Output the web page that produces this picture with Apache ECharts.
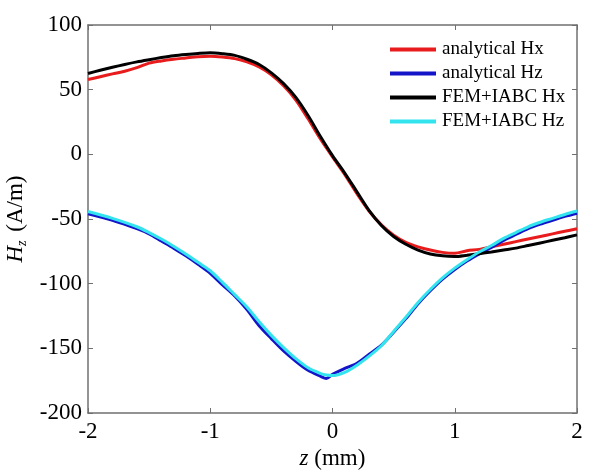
<!DOCTYPE html>
<html>
<head>
<meta charset="utf-8">
<script src="https://cdn.jsdelivr.net/npm/echarts@6/dist/echarts.min.js"></script>
<style>
html, body { margin: 0; padding: 0; background: #fff; }
#main { width: 590px; height: 472px; }
</style>
</head>
<body>
<div id="main"></div>
<script>
// z positions (mm) and field values (A/m)
var zHx = [-2, -1.9, -1.8, -1.7, -1.6, -1.5, -1.4, -1.3, -1.2, -1.1, -1, -0.9, -0.8, -0.7, -0.6, -0.5, -0.4, -0.3, -0.2, -0.1, 0,
           0.1, 0.2, 0.3, 0.4, 0.5, 0.6, 0.7, 0.8, 0.9, 1, 1.1, 1.2, 1.3, 1.4, 1.5, 1.6, 1.7, 1.8, 1.9, 2];
var analyticalHx = [57.8, 60, 62.2, 64.3, 67, 70.5, 72.2, 73.5, 74.5, 75.5, 75.8, 75.2, 74, 71.5, 67.5, 61.5, 53, 42, 27.5, 12, -2,
                    -15.5, -30.5, -44, -54.5, -62.5, -68, -71.5, -74, -75.8, -76.5, -74.5, -73.5, -71.5, -69.5, -67.5, -65.5, -63.5, -61.5, -59.5, -57.5];
var femHx = [62.5, 65, 67.3, 69.5, 71.5, 73.2, 74.8, 76.2, 77.2, 78, 78.5, 77.8, 76.5, 73.5, 69.5, 63, 54.7, 44, 30, 14, -1,
             -14.5, -29, -43.5, -55, -63.5, -69.5, -74, -77, -78.5, -79, -78, -76.8, -75.5, -74, -72.5, -70.5, -68.5, -66.5, -64.5, -62.3];

var zHz = [-2, -1.8, -1.6, -1.5, -1.4, -1.3, -1.2, -1.1, -1, -0.9, -0.8, -0.7, -0.6, -0.5, -0.4, -0.3, -0.2, -0.1, -0.05, 0,
           0.1, 0.2, 0.3, 0.4, 0.5, 0.6, 0.7, 0.8, 0.9, 1, 1.1, 1.2, 1.3, 1.4, 1.5, 1.6, 1.7, 1.8, 1.9, 2];
var analyticalHz = [-46, -51, -57.5, -61.5, -67, -72.5, -78.5, -85, -92, -101, -109.5, -120, -132.5, -142.5, -152, -160, -167, -171.5, -173.3, -170,
                    -165.5, -161.5, -154.5, -147.5, -137.5, -127, -115.5, -105.5, -96.5, -89, -82.5, -77, -72, -66.5, -62, -57.5, -54, -51, -48, -45.5];
var femHz = [-44.2, -49.5, -56, -60.5, -65.5, -71, -77, -83.5, -90, -99, -108.5, -118, -129.5, -140, -149.5, -158, -165, -169.3, -170.6, -171,
             -168.5, -163, -156, -148, -137, -126, -114.5, -104.5, -95.5, -88, -81.5, -75.5, -70.5, -65, -60.5, -56, -52.5, -49.5, -46.5, -43.8];

var seriesNames = ['analytical Hx', 'analytical Hz', 'FEM+IABC Hx', 'FEM+IABC Hz'];
var seriesColors = ['#e81c1c', '#1414c8', '#000000', '#33e4ee'];

function pairs(xs, ys) {
    return xs.map(function (x, i) { return [x, ys[i]]; });
}

var seriesData = [pairs(zHx, analyticalHx), pairs(zHz, analyticalHz), pairs(zHx, femHx), pairs(zHz, femHz)];

var font = 'Liberation Serif';
var axisColor = '#707070';

var myChart = echarts.init(document.getElementById('main'));

var option = {
    backgroundColor: '#fff',
    animation: false,
    color: seriesColors,
    textStyle: { fontFamily: font, color: '#000' },
    grid: { left: 88, right: 13, top: 25, bottom: 59, outerBoundsMode: 'none', containLabel: false },
    legend: {
        orient: 'vertical',
        left: 390,
        top: 39,
        padding: 0,
        itemWidth: 46,
        itemHeight: 4,
        itemGap: 3,
        icon: 'rect',
        textStyle: { fontFamily: font, fontSize: 19, color: '#000', padding: [0, 0, 0, 1], lineHeight: 21 },
        data: seriesNames
    },
    xAxis: [
        {
            type: 'value', min: -2, max: 2, interval: 1,
            name: '{i|z} (mm)', nameLocation: 'middle', nameGap: 30,
            nameTextStyle: {
                fontFamily: font, fontSize: 23, color: '#000',
                rich: { i: { fontFamily: font, fontSize: 23, fontStyle: 'italic' } }
            },
            axisLine: { onZero: false, lineStyle: { color: axisColor, width: 1.5 } },
            axisTick: { inside: true, length: 5, lineStyle: { color: axisColor } },
            axisLabel: { fontFamily: font, fontSize: 23, color: '#000', margin: 7 },
            splitLine: { show: false }
        },
        {
            type: 'value', min: -2, max: 2, interval: 1, position: 'top',
            axisLine: { onZero: false, lineStyle: { color: axisColor, width: 1.5 } },
            axisTick: { inside: true, length: 5, lineStyle: { color: axisColor } },
            axisLabel: { show: false },
            splitLine: { show: false }
        }
    ],
    yAxis: [
        {
            type: 'value', min: -200, max: 100, interval: 50,
            name: '{i|H}{s|z} (A/m)', nameLocation: 'middle', nameGap: 58,
            nameTextStyle: {
                fontFamily: font, fontSize: 23, color: '#000',
                rich: {
                    i: { fontFamily: font, fontSize: 23, fontStyle: 'italic' },
                    s: { fontFamily: font, fontSize: 14, fontStyle: 'italic', padding: [11, 3, 0, 0] }
                }
            },
            axisLine: { onZero: false, lineStyle: { color: axisColor, width: 1.5 } },
            axisTick: { inside: true, length: 5, lineStyle: { color: axisColor } },
            axisLabel: { fontFamily: font, fontSize: 23, color: '#000', margin: 6 },
            splitLine: { show: false }
        },
        {
            type: 'value', min: -200, max: 100, interval: 50, position: 'right',
            axisLine: { onZero: false, lineStyle: { color: axisColor, width: 1.5 } },
            axisTick: { inside: true, length: 5, lineStyle: { color: axisColor } },
            axisLabel: { show: false },
            splitLine: { show: false }
        }
    ],
    series: seriesNames.map(function (n, i) {
        return {
            name: n,
            type: 'line',
            data: seriesData[i],
            showSymbol: false,
            smooth: 0.3,
            lineStyle: { width: 3, color: seriesColors[i] },
            z: 2 + i
        };
    })
};

myChart.setOption(option);
</script>
</body>
</html>
